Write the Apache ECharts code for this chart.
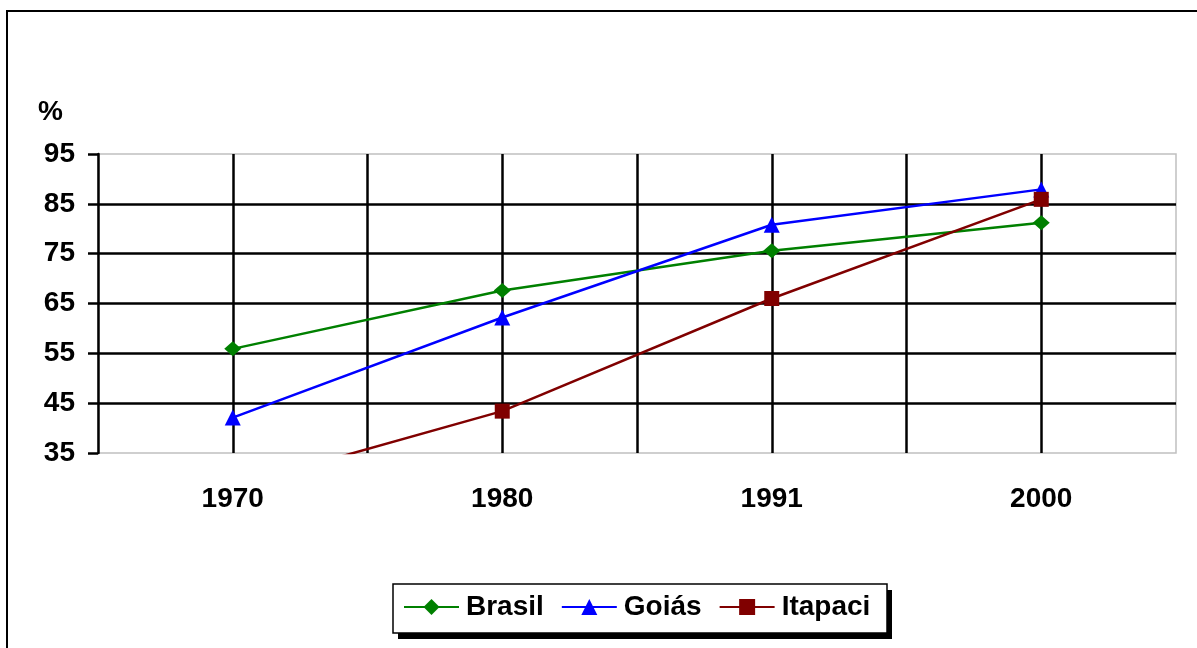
<!DOCTYPE html>
<html><head><meta charset="utf-8">
<script src="https://cdn.jsdelivr.net/npm/echarts@6/dist/echarts.min.js"></script>
<style>
html,body{margin:0;padding:0;background:#fff;}
#frame{position:absolute;left:6px;top:10px;width:1300px;height:800px;border-left:2px solid #000;border-top:2px solid #000;box-sizing:border-box;}
#chart{position:absolute;left:0;top:0;width:1197px;height:648px;}
</style></head>
<body>
<div id="frame"></div>
<div id="chart"></div>
<script>
var categories = ['1970', '1980', '1991', '2000'];
var brasil = [55.9, 67.6, 75.6, 81.2];
var goias = [42.1, 62.2, 80.8, 87.9];
var itapaci = [28.2, 43.4, 66.0, 85.9];
var yTicks = { min: 35, max: 95, interval: 10 };

var chart = echarts.init(document.getElementById('chart'), null, { renderer: 'canvas' });
var font = '"Liberation Sans", Arial, sans-serif';
function lineSeries(name, data, color, symbol, size) {
  return {
    name: name, type: 'line', data: data, z: 5,
    symbol: symbol, symbolSize: size,
    lineStyle: { color: color, width: 2.5 },
    itemStyle: { color: color },
    emphasis: { disabled: true },
    animation: false
  };
}
chart.setOption({
  animation: false,
  backgroundColor: 'transparent',
  title: { text: '%', left: 38, top: 98, padding: 0, textStyle: { fontFamily: font, fontWeight: 'bold', fontSize: 28, color: '#000' } },
  grid: { left: 98, right: 21, top: 154, bottom: 195, show: true, borderColor: '#c0c0c0', borderWidth: 1.5, backgroundColor: 'transparent' },
  graphic: [
    { type: 'rect', z: 1, silent: true, shape: { x: 398, y: 590, width: 494, height: 49 }, style: { fill: '#000' } },
    { type: 'rect', z: 2, silent: true, shape: { x: 393, y: 584, width: 494, height: 49 }, style: { fill: '#fff', stroke: '#000', lineWidth: 1.5 } }
  ],
  legend: {
    left: 403, top: 591, padding: 0, z: 10,
    itemGap: 17, itemWidth: 55, itemHeight: 20,
    textStyle: { fontFamily: font, fontWeight: 'bold', fontSize: 28, lineHeight: 32, color: '#000', padding: [0, 0, 0, 2] },
    data: ['Brasil', 'Goiás', 'Itapaci']
  },
  xAxis: {
    type: 'category', data: categories, boundaryGap: true,
    axisLine: { show: false }, axisTick: { show: false },
    axisLabel: { fontFamily: font, fontWeight: 'bold', fontSize: 28, color: '#000', margin: 32 },
    splitLine: { show: true, showMinLine: false, showMaxLine: false, lineStyle: { color: '#000', width: 2.5 } }
  },
  yAxis: {
    type: 'value', min: yTicks.min, max: yTicks.max, interval: yTicks.interval,
    axisLine: { show: true, lineStyle: { color: '#000', width: 2.5 } },
    axisTick: { show: true, length: 10, lineStyle: { color: '#000', width: 2.5 } },
    axisLabel: { fontFamily: font, fontWeight: 'bold', fontSize: 28, color: '#000', margin: 23 },
    splitLine: { show: true, showMinLine: false, showMaxLine: false, lineStyle: { color: '#000', width: 2.5 } }
  },
  series: [
    {
      type: 'line', data: [], z: 1, silent: true,
      markLine: {
        silent: true, symbol: 'none', animation: false,
        label: { show: false },
        lineStyle: { color: '#000', width: 2.5, type: 'solid' },
        data: categories.map(function (c) { return { xAxis: c }; })
      }
    },
    lineSeries('Brasil', brasil, '#008000', 'diamond', [17, 15]),
    lineSeries('Goiás', goias, '#0000ff', 'triangle', 16),
    lineSeries('Itapaci', itapaci, '#800000', 'rect', 15)
  ]
});
</script>
</body></html>
